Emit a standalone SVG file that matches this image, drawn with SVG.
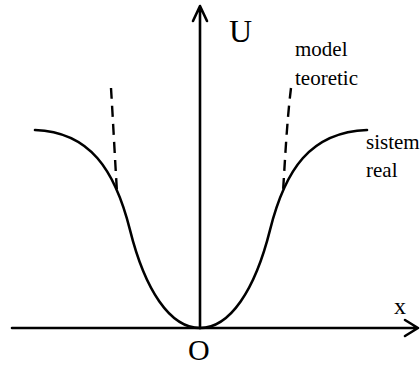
<svg xmlns="http://www.w3.org/2000/svg" width="420" height="368" viewBox="0 0 420 368">
<style>
.ln{fill:none;stroke:#000;stroke-width:2.6;stroke-linecap:round;stroke-linejoin:round}
.ds{fill:none;stroke:#000;stroke-width:2.4;stroke-dasharray:11 7}
</style>
<rect width="420" height="368" fill="#fff"/>
<g id="axes">
<path class="ln" d="M12,328 H418 M405,320 L418,328 L405,336"/>
<path class="ln" d="M200,328 V6 M193,21 L200,6 L207,21"/>
</g>
<g id="curves">
<path class="ln" d="M200,328 C230,328 255,290 270,230 C285,170 310,132 367,130"/>
<path class="ln" d="M200,328 C170,328 145,290 130,230 C115,170 90,132 35,130"/>
<path class="ds" d="M291,88 C287,120 285,160 283,192"/>
<path class="ds" d="M111,88 C113,120 115,160 117,192"/>
</g>
<g id="labels" font-family="'Liberation Serif', 'Times New Roman', serif" fill="#000">
<text x="229" y="42" font-size="32">U</text>
<text x="295" y="56" font-size="21">model</text>
<text x="295" y="85" font-size="21">teoretic</text>
<text x="366" y="149" font-size="21">sistem</text>
<text x="366" y="177" font-size="21">real</text>
<text x="394" y="314" font-size="24">x</text>
<text x="188" y="360" font-size="30">O</text>
</g>
</svg>
